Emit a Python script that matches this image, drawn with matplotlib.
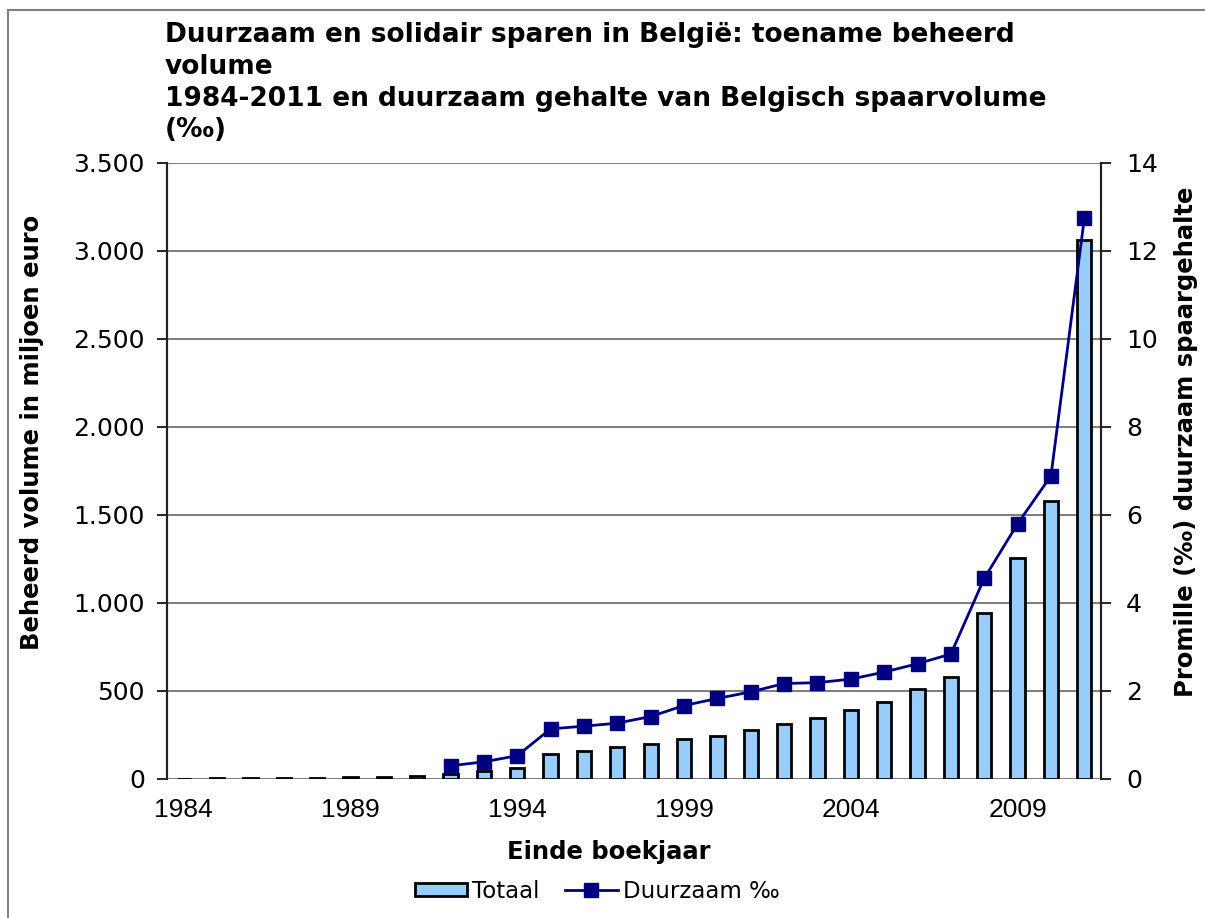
import numpy as np
import matplotlib
matplotlib.use("Agg")
import matplotlib.pyplot as plt
from matplotlib.patches import Rectangle
from matplotlib.ticker import FuncFormatter

# data
years = list(range(1984, 2012))
totaal = [2, 3, 4, 5, 7, 9, 12, 18, 30, 45, 65, 140, 160, 180, 198, 227,
          246, 276, 314, 345, 392, 439, 510, 580, 941, 1255, 1580, 3064]
duurzaam_years = list(range(1992, 2012))
duurzaam = [0.30, 0.39, 0.53, 1.14, 1.20, 1.27, 1.42, 1.67, 1.83, 1.98,
            2.17, 2.19, 2.27, 2.43, 2.62, 2.84, 4.56, 5.80, 6.89, 12.74]

title = ("Duurzaam en solidair sparen in België: toename beheerd\nvolume\n"
         "1984-2011 en duurzaam gehalte van Belgisch spaarvolume\n(‰)")

W, H = 1205, 918
fig = plt.figure(figsize=(W / 100, H / 100), dpi=100)
ax = fig.add_axes([167 / W, 1 - 779 / H, (1101 - 167) / W, (779 - 163) / H])
ax2 = ax.twinx()

x = np.arange(len(years))
ax.bar(x, totaal, width=0.43, color="#99CCFF", edgecolor="black",
       linewidth=2.0, zorder=3, label="Totaal")
xd = [years.index(y) for y in duurzaam_years]
ax2.plot(xd, duurzaam, color="#000080", lw=2, marker="s", markersize=10.5,
         zorder=4, label="Duurzaam ‰")

ax.set_xlim(-0.5, len(years) - 0.5)
ax.set_ylim(0, 3500)
ax2.set_ylim(0, 14)
ax.set_yticks(np.arange(0, 3501, 500))
ax2.set_yticks(np.arange(0, 15, 2))
ax.yaxis.set_major_formatter(FuncFormatter(lambda v, p: f"{int(v):,}".replace(",", ".")))
ax.set_xticks(x[::5])
ax.set_xticklabels([str(y) for y in years[::5]])

for a in (ax, ax2):
    for lab in a.get_yticklabels():
        lab.set_fontfamily("DejaVu Sans")
        lab.set_fontsize(18)
for lab in ax.get_xticklabels():
    lab.set_fontfamily("Liberation Sans")
    lab.set_fontsize(19)
ax.tick_params(axis="y", length=7, width=1.2, pad=9, colors="#000000")
ax2.tick_params(axis="y", length=7, width=1.2, pad=11)
ax.tick_params(axis="x", length=0, pad=14)

ax.grid(axis="y", color="#808080", lw=1.5, zorder=0)
ax.set_axisbelow(True)
for a in (ax, ax2):
    a.spines["top"].set_visible(False)
    a.spines["bottom"].set_visible(False)
    a.spines["left"].set_color("#222222")
    a.spines["right"].set_color("#222222")
    a.spines["left"].set_linewidth(1.5)
    a.spines["right"].set_linewidth(1.5)

fig.text(165 / W, 1 - 22 / H, title, ha="left", va="top", fontsize=19,
         fontweight="bold", family="DejaVu Sans", linespacing=1.29)
fig.text(32 / W, 1 - 432 / H, "Beheerd volume in miljoen euro", rotation=90,
         ha="center", va="center", fontsize=17.5, fontweight="bold",
         family="DejaVu Sans")
fig.text(1186 / W, 1 - 442 / H, "Promille (‰) duurzaam spaargehalte", rotation=90,
         ha="center", va="center", fontsize=17.5, fontweight="bold",
         family="DejaVu Sans")
fig.text(609 / W, 1 - 852 / H, "Einde boekjaar", ha="center", va="center",
         fontsize=17.5, fontweight="bold", family="DejaVu Sans")

h1, l1 = ax.get_legend_handles_labels()
h2, l2 = ax2.get_legend_handles_labels()
fig.legend(h1 + h2, l1 + l2, loc="center", bbox_to_anchor=(597 / W, 1 - 891 / H),
           ncol=2, frameon=False, prop={"family": "DejaVu Sans", "size": 16.5},
           handlelength=2.3, handleheight=0.52, handletextpad=0.22,
           columnspacing=1.1)

# chart border (cut off on the right and bottom in the reference)
fig.patches.append(Rectangle((8 / W, -0.1), 1.2, 1 - 10 / H + 0.1,
                             transform=fig.transFigure, fill=False,
                             edgecolor="#808080", lw=1.5))

fig.savefig("out.png", dpi=100)
